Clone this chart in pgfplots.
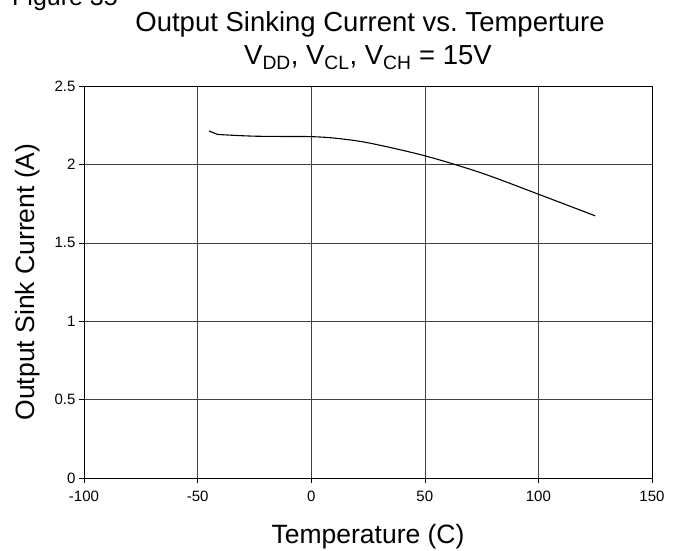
\documentclass[border=0pt]{standalone}
\usepackage{pgfplots}
\pgfplotsset{compat=1.18}
\usepackage{fontspec}
\setmainfont{Liberation Sans}
\frenchspacing
\begin{document}
\begin{tikzpicture}
\useasboundingbox (0pt,0pt) rectangle (684pt,550pt);
\begin{scope}
\clip (0pt,0pt) rectangle (684pt,550pt);
\node[anchor=base west, inner sep=0pt, font=\fontsize{25}{28}\selectfont] at (12pt,544pt) {Figure 35};
\end{scope}
\node[anchor=base, inner sep=0pt, font=\fontsize{27.5}{30}\selectfont] at (370pt,518pt) {Output Sinking Current vs.\ Temperture};
\node[anchor=base, inner sep=0pt, font=\fontsize{27.5}{30}\selectfont] at (368pt,485pt) {V\textsubscript{DD}, V\textsubscript{CL}, V\textsubscript{CH} = 15V};
\begin{axis}[
  at={(84pt,72pt)}, anchor=south west,
  scale only axis, width=568pt, height=392pt,
  xmin=-100, xmax=150, ymin=0, ymax=2.5,
  xtick={-100,-50,0,50,100,150},
  ytick={0,0.5,1,1.5,2,2.5},
  grid=major,
  major grid style={black!75, line width=0.6pt},
  axis line style={black, line width=1pt},
  tick align=outside, tick pos=left,
  major tick length=5pt,
  tick style={black, line width=0.6pt},
  ticklabel style={font=\fontsize{15}{17}\selectfont},
  xticklabel style={yshift=-4pt},
  /pgf/number format/assume math mode=true,
  xlabel={Temperature (C)},
  ylabel={Output Sink Current (A)},
  label style={font=\fontsize{26.5}{29}\selectfont},
  xlabel style={at={(axis description cs:0.5,-0.168)}, anchor=base},
  ylabel style={at={(axis description cs:-0.0870,0.5)}, anchor=base},
]
\addplot[black, line width=1.1pt, smooth, tension=0.5] coordinates {
(-45,2.213) (-42,2.196) (-40,2.19) (-25,2.18) (-10,2.178) (0,2.177) (10,2.168) (25,2.138) (50,2.055) (75,1.945) (100,1.81) (125,1.672)
};
\end{axis}
\end{tikzpicture}
\end{document}
